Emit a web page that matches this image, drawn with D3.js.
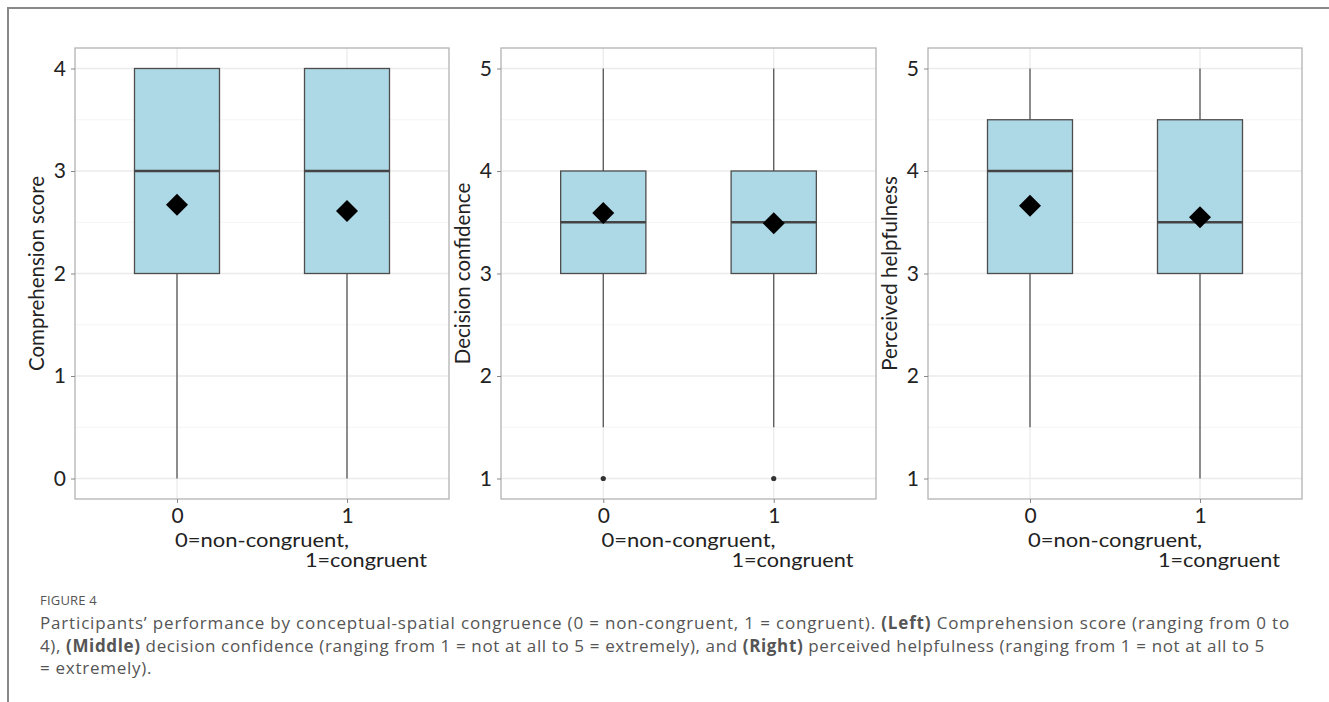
<!DOCTYPE html>
<html><head><meta charset="utf-8">
<script src="https://cdn.jsdelivr.net/npm/d3@7"></script>
<style>body{margin:0;background:#fff}svg{display:block}</style>
</head><body>
<svg id="c" width="1329" height="702"></svg>
<script>
// ---- data ----
const categories = ["0", "1"];
const yTitles = ["Comprehension score", "Decision confidence", "Perceived helpfulness"];
const yDomains = [[0, 4], [1, 5]];
const yTicks = [[0, 1, 2, 3, 4], [1, 2, 3, 4, 5], [1, 2, 3, 4, 5]];
// per panel, per category
const whiskerLow  = [[0, 0], [1.5, 1.5], [1.5, 1]];
const q1          = [[2, 2], [3, 3], [3, 3]];
const medians     = [[3, 3], [3.5, 3.5], [4, 3.5]];
const q3          = [[4, 4], [4, 4], [4.5, 4.5]];
const whiskerHigh = [[4, 4], [5, 5], [5, 5]];
const means       = [[2.67, 2.61], [3.59, 3.49], [3.66, 3.55]];
const outliers    = [[[], []], [[1], [1]], [[], []]];
const xTitle1 = "0=non-congruent,";
const xTitle2 = "1=congruent";

const svg = d3.select("#c");
const font = "Lato, 'Open Sans', sans-serif";
const capFont = "'Open Sans', Lato, sans-serif";

// outer frame
svg.append("path").attr("d", "M8,702 L8,8 L1329,8").attr("fill", "none").attr("stroke", "#888").attr("stroke-width", 2);

const panelX = [[75, 449], [501, 876], [928, 1302]];
const plotTop = 48, plotBottom = 499;

for (let p = 0; p < 3; p++) {
  const dom = p === 0 ? yDomains[0] : yDomains[1];
  const pad = (dom[1] - dom[0]) * 0.05;
  const y = d3.scaleLinear().domain([dom[0] - pad, dom[1] + pad]).range([plotBottom, plotTop]);
  const [x0, x1] = panelX[p];
  const x = d3.scaleLinear().domain([0.4, 2.6]).range([x0, x1]);
  const g = svg.append("g");

  // minor grid
  const minors = d3.range(dom[0] + 0.5, dom[1], 1);
  g.selectAll(".mn").data(minors).join("line")
    .attr("x1", x0).attr("x2", x1).attr("y1", d => y(d)).attr("y2", d => y(d))
    .attr("stroke", "#f4f4f4").attr("stroke-width", 1);
  // major grid
  g.selectAll(".mj").data(yTicks[p]).join("line")
    .attr("x1", x0).attr("x2", x1).attr("y1", d => y(d)).attr("y2", d => y(d))
    .attr("stroke", "#ebebeb").attr("stroke-width", 1.3);
  g.selectAll(".mjx").data(categories).join("line")
    .attr("x1", (d, i) => x(i + 1)).attr("x2", (d, i) => x(i + 1)).attr("y1", plotTop).attr("y2", plotBottom)
    .attr("stroke", "#ebebeb").attr("stroke-width", 1.3);

  // boxes
  categories.forEach((c, i) => {
    const cx = x(i + 1), hw = x(1.25) - x(1);
    g.append("line").attr("x1", cx).attr("x2", cx).attr("y1", y(whiskerHigh[p][i])).attr("y2", y(q3[p][i]))
      .attr("stroke", "#555").attr("stroke-width", 1.3);
    g.append("line").attr("x1", cx).attr("x2", cx).attr("y1", y(q1[p][i])).attr("y2", y(whiskerLow[p][i]))
      .attr("stroke", "#555").attr("stroke-width", 1.3);
    g.append("rect").attr("x", cx - hw).attr("width", 2 * hw)
      .attr("y", y(q3[p][i])).attr("height", y(q1[p][i]) - y(q3[p][i]))
      .attr("fill", "#add8e6").attr("stroke", "#4d4d4d").attr("stroke-width", 1.3);
    g.append("line").attr("x1", cx - hw).attr("x2", cx + hw).attr("y1", y(medians[p][i])).attr("y2", y(medians[p][i]))
      .attr("stroke", "#444").attr("stroke-width", 2.6);
    outliers[p][i].forEach(o => {
      g.append("circle").attr("cx", cx).attr("cy", y(o)).attr("r", 2.6).attr("fill", "#333");
    });
    const my = y(means[p][i]), s = 11;
    g.append("path").attr("d", `M${cx},${my - s} L${cx + s},${my} L${cx},${my + s} L${cx - s},${my} Z`).attr("fill", "#000");
  });

  // panel border
  g.append("rect").attr("x", x0).attr("y", plotTop).attr("width", x1 - x0).attr("height", plotBottom - plotTop)
    .attr("fill", "none").attr("stroke", "#b3b3b3").attr("stroke-width", 1.3);

  // y axis
  const ya = g.append("g").attr("transform", `translate(${x0},0)`)
    .call(d3.axisLeft(y).tickValues(yTicks[p]).tickSize(4).tickPadding(5).tickFormat(d3.format("d")));
  ya.select(".domain").remove();
  ya.selectAll("line").attr("stroke", "#888");
  ya.selectAll("text").attr("font-family", font).attr("font-size", 21).attr("fill", "#222");

  // x axis
  const xa = g.append("g").attr("transform", `translate(0,${plotBottom})`)
    .call(d3.axisBottom(x).tickValues([1, 2]).tickSize(4).tickPadding(5).tickFormat((d, i) => categories[i]));
  xa.select(".domain").remove();
  xa.selectAll("line").attr("stroke", "#888");
  xa.selectAll("text").attr("font-family", font).attr("font-size", 21).attr("fill", "#222");

  // titles
  const mid = (x0 + x1) / 2;
  g.append("text").attr("x", mid - 87).attr("y", 547).attr("text-anchor", "start")
    .attr("textLength", 174).attr("lengthAdjust", "spacingAndGlyphs")
    .attr("font-family", font).attr("font-size", 20).attr("fill", "#222").text(xTitle1);
  g.append("text").attr("x", mid + 43).attr("y", 567).attr("text-anchor", "start")
    .attr("textLength", 122).attr("lengthAdjust", "spacingAndGlyphs")
    .attr("font-family", font).attr("font-size", 20).attr("fill", "#222").text(xTitle2);
  g.append("text").attr("transform", `translate(${x0 - 31},${(plotTop + plotBottom) / 2}) rotate(-90)`)
    .attr("text-anchor", "middle").attr("font-family", font).attr("font-size", 20.5).attr("fill", "#222")
    .text(yTitles[p]);
}

// caption
const cap = svg.append("g").attr("font-family", capFont).attr("fill", "#555");
cap.append("text").attr("x", 40).attr("y", 605).attr("font-size", 13).attr("letter-spacing", 0.2).text("FIGURE 4");
const capLines = [
  [["Participants’ performance by conceptual-spatial congruence (0 = non-congruent, 1 = congruent). ", false], ["(Left)", true], [" Comprehension score (ranging from 0 to", false]],
  [["4), ", false], ["(Middle)", true], [" decision confidence (ranging from 1 = not at all to 5 = extremely), and ", false], ["(Right)", true], [" perceived helpfulness (ranging from 1 = not at all to 5", false]],
  [["= extremely).", false]]
];
const capWidths = [1250, 1225, null];
const capTexts = capLines.map((ln, i) => {
  const t = cap.append("text").attr("x", 40).attr("y", 629 + i * 22.5).attr("font-size", 17);
  ln.forEach(([s, b]) => t.append("tspan").attr("font-weight", b ? 700 : 400).text(s));
  return t;
});
// fit caption lines to their widths in the figure
const spacings = [];
capTexts.forEach((t, i) => {
  if (capWidths[i] == null) return;
  const w = t.node().getComputedTextLength();
  const n = capLines[i].map(d => d[0]).join("").length;
  const ls = (capWidths[i] - w) / n;
  spacings.push(ls);
  t.attr("letter-spacing", ls);
});
capTexts[2].attr("letter-spacing", d3.mean(spacings));
</script>
</body></html>
